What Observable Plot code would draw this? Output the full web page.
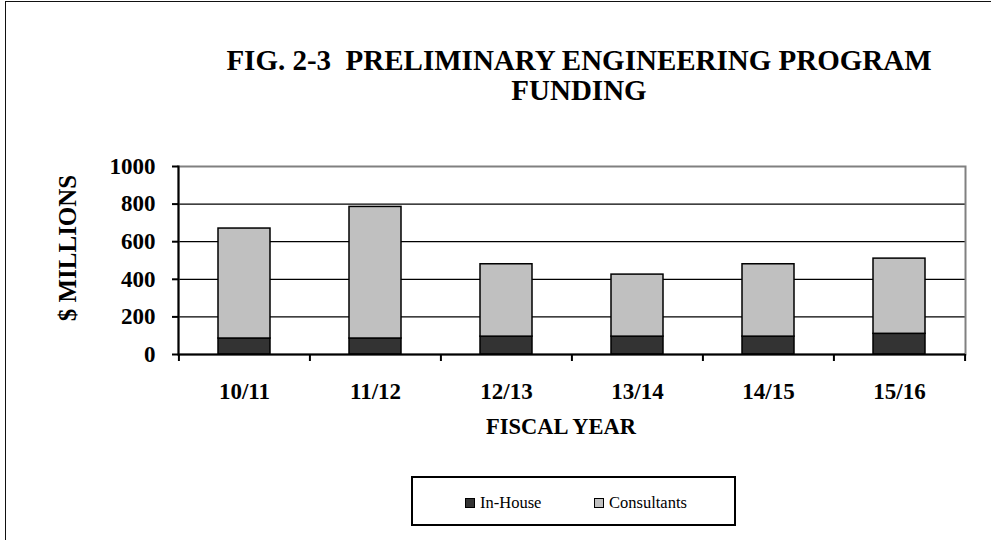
<!DOCTYPE html>
<html>
<head>
<meta charset="utf-8">
<script src="https://cdn.jsdelivr.net/npm/d3@7"></script>
<script src="https://cdn.jsdelivr.net/npm/@observablehq/plot@0.6"></script>
<style>
  html, body { margin: 0; padding: 0; background: #fff; width: 991px; height: 540px; overflow: hidden; }
  #wrap { position: relative; width: 991px; height: 540px; font-family: "Liberation Serif", "Times New Roman", serif; overflow: hidden; }
  #border { position: absolute; left: 5px; top: 1px; width: 1100px; height: 700px; border: 1.5px solid #111; box-sizing: border-box; }
  .title { position: absolute; left: 79px; width: 1000px; text-align: center; white-space: pre; font-weight: bold; font-size: 29px; line-height: 30px; color: #000; font-family: "Liberation Serif", "Times New Roman", serif; }
  #chart { position: absolute; left: 0; top: 0; }
  .lbl { position: absolute; font-weight: bold; color: #000; white-space: nowrap; font-family: "Liberation Serif", "Times New Roman", serif; }
  #legend { position: absolute; left: 411px; top: 476px; width: 325px; height: 50px; border: 2px solid #000; box-sizing: border-box; background: #fff; }
  .li { position: absolute; top: 17px; font-size: 16.5px; line-height: 16px; white-space: nowrap; font-family: "Liberation Serif", "Times New Roman", serif; color: #000; }
  .sw { display: inline-block; width: 8px; height: 8px; border: 1px solid #000; margin-right: 5px; vertical-align: 0px; }
</style>
</head>
<body>
<div id="wrap">
  <div id="border"></div>
  <div class="title" style="top:45px">FIG. 2-3  PRELIMINARY ENGINEERING PROGRAM</div>
  <div class="title" style="top:75px">FUNDING</div>
  <div id="chart"></div>
  <div class="lbl" id="ylab" style="font-size:25px; left:68px; top:248px; transform: translate(-50%,-50%) rotate(-90deg);">$ MILLIONS</div>
  <div class="lbl" id="xlab" style="font-size:22.5px; left:561px; top:427px; transform: translate(-50%,-50%);">FISCAL YEAR</div>
  <div id="legend"></div>
</div>
<script>
const years = ["10/11", "11/12", "12/13", "13/14", "14/15", "15/16"];
const inHouse = [85, 85, 95, 95, 95, 110];
const consultants = [585, 700, 385, 330, 385, 400];
const seriesNames = ["In-House", "Consultants"];
const seriesColors = ["#333333", "#c0c0c0"];
const yTicks = [0, 200, 400, 600, 800, 1000];

const data = years.flatMap((yr, i) => [
  {year: yr, series: "In-House", value: inHouse[i]},
  {year: yr, series: "Consultants", value: consultants[i]}
]);

const W = 991, H = 540, mL = 178, mR = 26, mT = 166, mB = 186;
const pIn = 0.6, pOut = 0.3;
const step = (W - mL - mR) / (years.length - pIn + 2 * pOut);

const chart = Plot.plot({
  width: W, height: H,
  marginLeft: mL, marginRight: mR, marginTop: mT, marginBottom: mB,
  style: {fontFamily: "'Liberation Serif', 'Times New Roman', serif", background: "transparent", overflow: "visible", color: "#000"},
  x: {domain: years, paddingInner: pIn, paddingOuter: pOut, align: 0.5, label: null},
  y: {domain: [0, 1000], label: null},
  color: {domain: seriesNames, range: seriesColors},
  marks: [
    Plot.ruleY(yTicks.filter(v => v > 0 && v < 1000), {stroke: "#000", strokeWidth: 1.3}),
    Plot.frame({stroke: "#808080", strokeWidth: 2}),
    Plot.barY(data, {x: "year", y: "value", fill: "series", order: seriesNames, stroke: "#000", strokeWidth: 1.5}),
    Plot.frame({anchor: "left", stroke: "#000", strokeWidth: 2}),
    Plot.ruleY([0], {stroke: "#000", strokeWidth: 2}),
    Plot.axisY({ticks: yTicks, tickFormat: d => String(d), tickSize: 6, tickPadding: 17, strokeWidth: 2, fontSize: 23, fontWeight: "bold", label: null}),
    Plot.axisX({tickSize: 0, tickPadding: 28, fontSize: 23, fontWeight: "bold", label: null}),
    Plot.axisX({tickSize: 7, strokeWidth: 2, tickFormat: () => "", dx: -step / 2, label: null}),
    Plot.axisX({ticks: [years[years.length - 1]], tickSize: 7, strokeWidth: 2, tickFormat: () => "", dx: step / 2, label: null})
  ]
});
document.getElementById("chart").appendChild(chart);

const legend = document.getElementById("legend");
const legendLeft = [52, 181];
seriesNames.forEach((name, i) => {
  const item = document.createElement("div");
  item.className = "li";
  item.style.left = legendLeft[i] + "px";
  const sw = document.createElement("span");
  sw.className = "sw";
  sw.style.background = seriesColors[i];
  item.appendChild(sw);
  item.appendChild(document.createTextNode(name));
  legend.appendChild(item);
});
</script>
</body>
</html>
